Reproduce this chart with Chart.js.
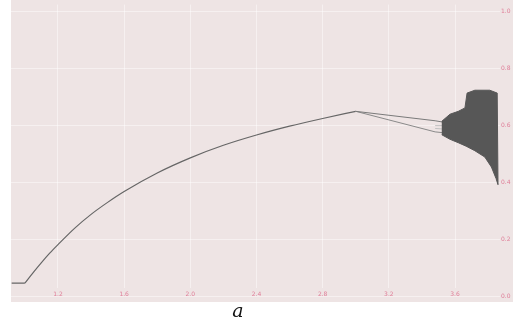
<!DOCTYPE html>
<html>
<head>
<meta charset="utf-8">
<script src="https://cdn.jsdelivr.net/npm/chart.js@4/dist/chart.umd.min.js"></script>
<style>
  html,body{margin:0;padding:0;background:#fff;}
  #wrap{width:513px;height:322px;}
</style>
</head>
<body>
<div id="wrap"><canvas id="c" width="513" height="322"></canvas></div>
<script>
// ---- data ----
const xTicks = [1.2, 1.6, 2.0, 2.4, 2.8, 3.2, 3.6];
const yTicks = [0.0, 0.2, 0.4, 0.6, 0.8, 1.0];

const flatA = [0.92, 1.00];
const flatV = [0.048, 0.048];

const curveA = [1.00, 1.05, 1.10, 1.15, 1.20, 1.30, 1.40, 1.50, 1.60, 1.80, 2.00, 2.20, 2.40, 2.60, 2.80, 3.00];
const curveV = [0.048, 0.085, 0.120, 0.153, 0.183, 0.240, 0.289, 0.331, 0.369, 0.434, 0.487, 0.531, 0.567, 0.598, 0.625, 0.650];

const branchUpA = [3.00, 3.48, 3.53];
const branchUpV = [0.650, 0.617, 0.612];
const branchLoA = [3.00, 3.48, 3.53];
const branchLoV = [0.650, 0.578, 0.575];

const boxA = [3.48, 3.53];
const boxV1 = [0.600, 0.600];
const boxV2 = [0.590, 0.588];

const bandTopA = [3.52, 3.57, 3.62, 3.66, 3.673, 3.72, 3.81, 3.855];
const bandTopV = [0.615, 0.640, 0.650, 0.662, 0.714, 0.724, 0.724, 0.714];
const bandBotA = [3.52, 3.57, 3.62, 3.667, 3.72, 3.78, 3.82, 3.848, 3.86];
const bandBotV = [0.568, 0.552, 0.540, 0.528, 0.512, 0.490, 0.455, 0.415, 0.393];

const gapA = [3.691, 3.776];
const gapTop = [0.714, 0.720];
const gapBot = [0.525, 0.500];

// ---- build datasets ----
const pts = (xs, ys) => xs.map((x, i) => ({x: x, y: ys[i]}));
const bandPts = pts(bandTopA, bandTopV).concat(pts(bandBotA, bandBotV).reverse());
const gapPts = [];
gapA.forEach((a, i) => { gapPts.push({x: a, y: gapTop[i]}, {x: a, y: gapBot[i]}, {x: a, y: null}); });

const bgPlugin = {
  id: 'bg',
  beforeDraw(chart) {
    const ctx = chart.ctx;
    ctx.save();
    ctx.fillStyle = '#eee4e4';
    ctx.fillRect(11, 0, 502, 302);
    ctx.restore();
  }
};

const gridColor = 'rgba(255,255,255,0.45)';

new Chart(document.getElementById('c'), {
  type: 'scatter',
  data: {
    datasets: [
      {data: bandPts, showLine: true, fill: 'shape', backgroundColor: '#575757', borderColor: '#575757', borderWidth: 1, pointRadius: 0},
      {data: gapPts, showLine: true, spanGaps: false, borderColor: '#b8b8b8', borderWidth: 1, pointRadius: 0},
      {data: pts(branchUpA, branchUpV), showLine: true, borderColor: '#7a7a7a', borderWidth: 1, pointRadius: 0},
      {data: pts(branchLoA, branchLoV), showLine: true, borderColor: '#8a8a8a', borderWidth: 1, pointRadius: 0},
      {data: pts(boxA, boxV1), showLine: true, borderColor: '#c0c0c0', borderWidth: 1, pointRadius: 0},
      {data: pts(boxA, boxV2), showLine: true, borderColor: '#c0c0c0', borderWidth: 1, pointRadius: 0},
      {data: pts(flatA, flatV), showLine: true, borderColor: '#666666', borderWidth: 1.2, pointRadius: 0},
      {data: pts(curveA, curveV), showLine: true, borderColor: '#666666', borderWidth: 1.2, pointRadius: 0, cubicInterpolationMode: 'monotone'}
    ]
  },
  options: {
    responsive: false,
    animation: false,
    layout: {padding: {left: 11, right: 0, top: 0, bottom: 0}},
    plugins: {
      legend: {display: false},
      tooltip: {enabled: false},
      title: {
        display: true,
        position: 'bottom',
        text: 'a        ',
        color: '#111',
        font: {family: 'DejaVu Serif', style: 'italic', weight: 'normal', size: 19, lineHeight: 1},
        padding: {top: 1, bottom: 0}
      }
    },
    scales: {
      x: {
        type: 'linear',
        min: 0.916,
        max: 3.872,
        afterBuildTicks: s => { s.ticks = xTicks.map(v => ({value: v})); },
        afterFit: s => { s.height = 14; },
        border: {display: false},
        grid: {color: gridColor, drawTicks: false, lineWidth: 1},
        ticks: {
          padding: 3,
          autoSkip: false,
          color: '#e0809a',
          font: {family: 'DejaVu Sans', size: 6},
          maxRotation: 0,
          callback: v => Number(v).toFixed(1)
        }
      },
      y: {
        type: 'linear',
        position: 'right',
        min: 0.031,
        max: 1.024,
        afterBuildTicks: s => { s.ticks = yTicks.map(v => ({value: v})); },
        afterFit: s => { s.width = 13; },
        border: {display: false},
        grid: {color: gridColor, drawTicks: false, lineWidth: 1},
        ticks: {
          padding: 1,
          color: '#e0809a',
          font: {family: 'DejaVu Sans', size: 6},
          callback: v => Number(v).toFixed(1)
        }
      }
    }
  },
  plugins: [bgPlugin]
});
</script>
</body>
</html>
